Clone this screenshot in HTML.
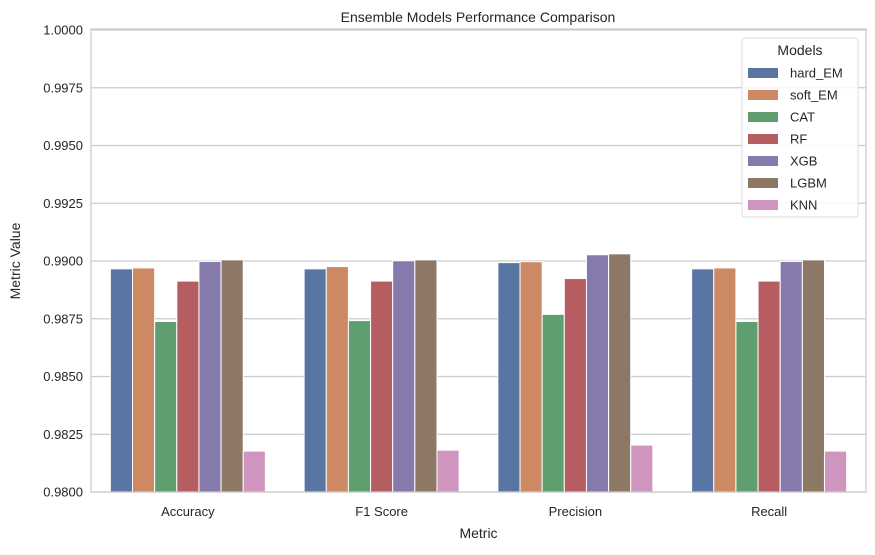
<!DOCTYPE html>
<html><head><meta charset="utf-8"><style>
body{margin:0;background:#fff;}
svg text{font-family:"Liberation Sans",Arial,sans-serif;fill:#262626;}
</style></head><body>
<svg id="c" width="875" height="550" xmlns="http://www.w3.org/2000/svg">
<text x="478" y="22" font-size="14" text-anchor="middle">Ensemble Models Performance Comparison</text>
<g id="grid"></g><g id="bars"></g><g id="axes"></g><g id="legend"></g>
</svg>
<script>
const categories=["Accuracy","F1 Score","Precision","Recall"];
const models=["hard_EM","soft_EM","CAT","RF","XGB","LGBM","KNN"];
const colors=["#5975a4","#cc8963","#5f9e6e","#b55d60","#857aab","#8d7866","#d095bf"];
const hardEM=[0.98966,0.98966,0.98993,0.98966];
const softEM=[0.98970,0.98976,0.98997,0.98970];
const cat=[0.98738,0.98742,0.98769,0.98738];
const rf=[0.98913,0.98913,0.98924,0.98913];
const xgb=[0.98998,0.99001,0.99027,0.98998];
const lgbm=[0.99005,0.99005,0.99031,0.99005];
const knn=[0.98177,0.98181,0.98203,0.98177];
const series=[hardEM,softEM,cat,rf,xgb,lgbm,knn];
const yTicks=[0.98,0.9825,0.985,0.9875,0.99,0.9925,0.995,0.9975,1.0];
const NS="http://www.w3.org/2000/svg";
const L=91,R=866,T=30,B=492,yMin=0.98,yMax=1.0;
const y=v=>B-(v-yMin)/(yMax-yMin)*(B-T);
const band=(R-L)/categories.length;
const x=i=>L+band*(i+0.5);
function mk(tag,attrs,parent){const e=document.createElementNS(NS,tag);for(const k in attrs)e.setAttribute(k,attrs[k]);parent.appendChild(e);return e;}
const svg=document.getElementById('c');
const grid=document.getElementById('grid'),bars=document.getElementById('bars'),axes=document.getElementById('axes'),leg=document.getElementById('legend');
yTicks.forEach(t=>{
  const l=mk('line',{x1:L,x2:R,y1:y(t),y2:y(t),stroke:'#cccccc','stroke-width':1.2},grid);
  
  
  const tx=mk('text',{x:L-8,y:y(t)+4.5,'font-size':13,'text-anchor':'end'},axes);
  tx.textContent=t.toFixed(4);
  
  
});
const bw=band*0.8/models.length;
series.forEach((s,m)=>{
  s.forEach((v,i)=>{
    const bx=x(i)-band*0.4+m*bw;
    const r=mk('rect',{x:bx,y:y(v),width:bw,height:B-y(v),fill:colors[m],stroke:'#fff','stroke-width':1},bars);
    
    
  });
});
categories.forEach((c,i)=>{
  const tx=mk('text',{x:x(i),y:B+24,'font-size':13,'text-anchor':'middle'},axes);
  tx.textContent=c;
  
  
});
const fr=mk('rect',{x:L,y:T-1,width:R-L,height:B-T+1,fill:'none',stroke:'#cccccc','stroke-width':1.3},axes);


const xt=mk('text',{x:(L+R)/2,y:538,'font-size':14,'text-anchor':'middle'},axes);
xt.textContent='Metric';


const yt=mk('text',{x:0,y:0,'font-size':14,'text-anchor':'middle',transform:'translate(20,261) rotate(-90)'},axes);
yt.textContent='Metric Value';


const lb=mk('rect',{x:742,y:38,width:116,height:179,rx:3,fill:'#fff','fill-opacity':0.85,stroke:'#dddddd'},leg);


const lt=mk('text',{x:800,y:55,'font-size':14,'text-anchor':'middle'},leg);
lt.textContent='Models';


models.forEach((m,k)=>{
  const cy=73+k*22;
  const g=mk('g',{},leg);
  
  
  mk('rect',{x:748,y:cy-5,width:30,height:10,fill:colors[k]},g);
  const t=mk('text',{x:790,y:cy+4.5,'font-size':13},g);
  t.textContent=m;
});
</script>
</body></html>
